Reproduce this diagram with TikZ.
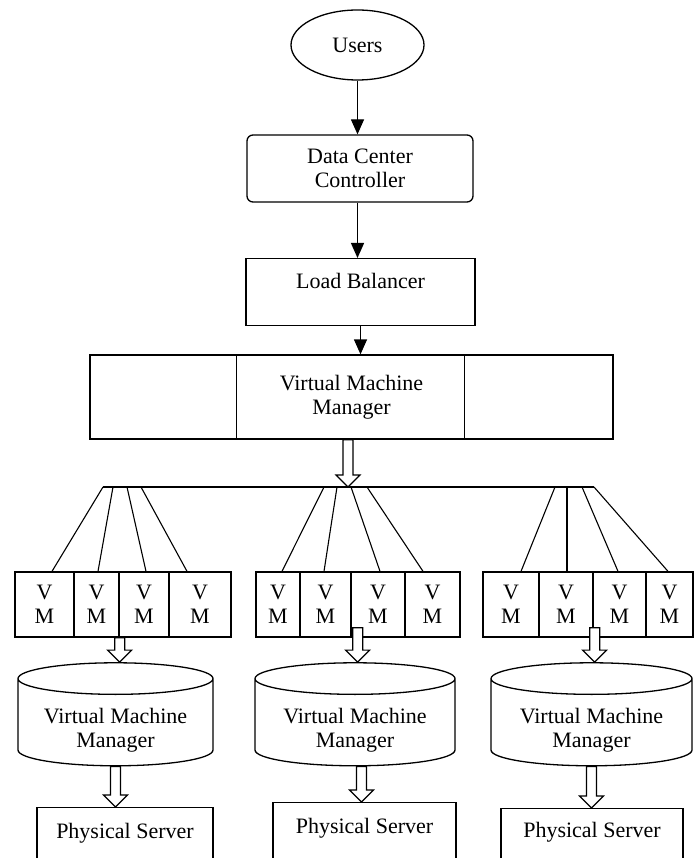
\documentclass[tikz,border=0pt]{standalone}
\usepackage{fontspec}
\setmainfont{Liberation Serif}
\usetikzlibrary{calc,arrows.meta,shapes.geometric}
\tikzset{
  every node/.style={font=\fontsize{22}{24}\selectfont},
  box/.style={draw,align=center},
  vmcell/.style={draw,minimum height=65pt,inner sep=0pt,align=center},
  drum/.style={cylinder,draw,shape border rotate=90,aspect=0.22,minimum height=103pt,inner sep=0pt,align=center},
  psbox/.style={draw,anchor=north,inner ysep=0pt,text height=31pt,text depth=60pt},
  flow/.style={-{Triangle[length=15pt,width=13pt]}}
}
\newcommand{\hollowarrow}[2]{%
  \draw[fill=white,line width=1.2pt] let \p1=(#1), \p2=(#2) in
    (\x1-5pt,\y1) -- (\x1-5pt,\y2+12pt) -- (\x1-12pt,\y2+12pt) -- (\x1,\y2)
    -- (\x1+12pt,\y2+12pt) -- (\x1+5pt,\y2+12pt) -- (\x1+5pt,\y1) -- cycle;}

\begin{document}
\begin{tikzpicture}[x=1pt,y=-1pt,line width=1.3pt]
\useasboundingbox (0,0) rectangle (694,858);
\clip (0,0) rectangle (694,858);
%
\def\ybus{487}
\def\yvm{604.5}
%
\node[ellipse,draw,minimum width=133pt,minimum height=70pt,inner sep=0pt] (users) at (357.5,45) {Users};
\node[box,rounded corners=6pt,minimum width=226pt,minimum height=67pt] (dcc) at (360,168.5) {Data Center\\Controller};
\node[draw,anchor=north,minimum width=229pt,inner ysep=0pt,text height=30pt,text depth=37pt] (lb) at (360.5,258) {Load Balancer};
\node[box,minimum width=523pt,minimum height=84pt] (vmm) at (351.5,397) {Virtual Machine\\Manager};
\draw ([xshift=147pt]vmm.north west) -- ([xshift=147pt]vmm.south west);
\draw ([xshift=-149pt]vmm.north east) -- ([xshift=-149pt]vmm.south east);
%
\draw[flow] (users.south) -- (users.south |- dcc.north);
\draw[flow] (users.south |- dcc.south) -- (users.south |- lb.north);
\draw[flow] (lb.south) -- (lb.south |- vmm.north);
%
\coordinate (busL) at (103,\ybus);
\coordinate (busR) at (594,\ybus);
\draw (busL) -- (busR);
%
\foreach \g/\i/\xa/\xb in {1/1/15/74,1/2/74/119,1/3/119/169,1/4/169/231,
  2/1/256/300,2/2/300/351,2/3/351/405,2/4/405/460,
  3/1/483/539,3/2/539/593,3/3/593/646,3/4/646/693}
  \node[vmcell,minimum width={(\xb-\xa)*1pt}] (vm\g\i) at ({(\xa+\xb)/2},\yvm) {V\\M};
%
\foreach \g/\i/\xt/\dx in {1/1/103/7.5,1/2/113/1.5,1/3/127/2,1/4/141/-13,
  2/1/324/4,2/2/337/-1.5,2/3/351/2,2/4/367/-9.5,
  3/1/555/10,3/2/567/1,3/3/582/-1.5,3/4/594/-1.5}{
  \coordinate (t\g\i) at (\xt,\ybus);
  \draw[line width=1.1pt] (t\g\i) -- ([xshift=\dx pt]vm\g\i.north);
}
%
\foreach \n/\x/\w in {1/115.5/195,2/355/200,3/591.5/201}{
  \node[drum,minimum width=\w pt] (c\n) at (\x,722.5) {\phantom{Virtual Machine}\\\phantom{Manager}};
  \node[align=center] (c\n t) at ([yshift=-8pt]c\n.center) {Virtual Machine\\Manager};
}
%
\node[psbox,minimum width=176pt] (ps1) at (125,807) {Physical Server};
\node[psbox,minimum width=183pt] (ps2) at (364.5,802) {Physical Server};
\node[psbox,minimum width=182pt,text height=29pt] (ps3) at (592,808) {Physical Server};
%
\hollowarrow{[xshift=-3.5pt]vmm.south}{busL}
\hollowarrow{vm12.south east}{c1.north}
\hollowarrow{[xshift=6pt,yshift=10pt]vm22.south east}{c2.north}
\hollowarrow{[xshift=1pt,yshift=10pt]vm32.south east}{c3.north}
\hollowarrow{c1.south}{ps1.north}
\hollowarrow{[xshift=6.5pt]c2.south}{ps2.north}
\hollowarrow{c3.south}{ps3.north}
%
\end{tikzpicture}
\end{document}
